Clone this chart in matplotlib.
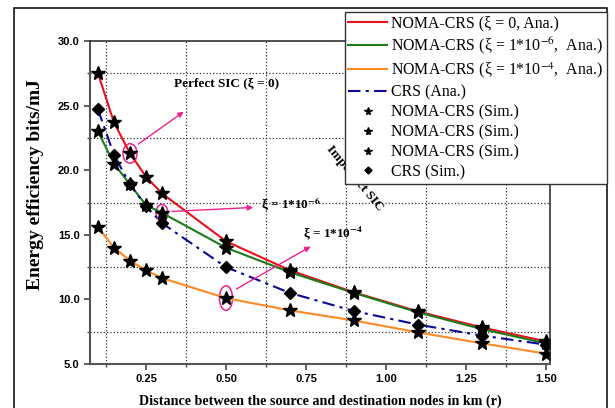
import numpy as np
import matplotlib.pyplot as plt
from matplotlib.patches import Ellipse, Rectangle
from matplotlib.ticker import MultipleLocator, FormatStrFormatter

plt.rcParams['font.family'] = ['Liberation Serif', 'DejaVu Serif']
plt.rcParams['mathtext.fontset'] = 'stix'

# distance r (km)
r = [0.1, 0.15, 0.2, 0.25, 0.3, 0.5, 0.7, 0.9, 1.1, 1.3, 1.5]

# energy efficiency (bits/mJ)
ee_xi0 = [27.5, 23.7, 21.3, 19.5, 18.2, 14.5, 12.25, 10.55, 9.07, 7.83, 6.75]
ee_xi6 = [23.0, 20.5, 18.9, 17.3, 16.7, 14.0, 12.1, 10.5, 9.0, 7.7, 6.6]
ee_xi4 = [15.6, 14.0, 13.0, 12.25, 11.65, 10.1, 9.15, 8.37, 7.45, 6.6, 5.8]
ee_crs = [24.7, 21.2, 18.9, 17.2, 15.9, 12.5, 10.5, 9.1, 8.05, 7.2, 6.5]

fig = plt.figure(figsize=(6.15, 4.08), dpi=100)
ax = fig.add_axes([0.1463, 0.1078, 0.748, 0.7917])

# outer frame
fig.patches.append(Rectangle((0.0228, -0.1), 0.9642, 1.0804, transform=fig.transFigure,
                             fill=False, lw=1.1, ec='black', zorder=0))

l1, = ax.plot(r, ee_xi0, color='#e8101a', lw=1.5, label='NOMA-CRS (ξ = 0, Ana.)')
l2, = ax.plot(r, ee_xi6, color='#1c7a1c', lw=1.5, label='NOMA-CRS (ξ = 1*10$^{-6}$,  Ana.)')
l3, = ax.plot(r, ee_xi4, color='#ff8a24', lw=1.5, label='NOMA-CRS (ξ = 1*10$^{-4}$,  Ana.)')
l4, = ax.plot(r, ee_crs, color='#0a0a96', lw=1.5, ls=(0, (6, 2.5, 1.5, 2.5)), label='CRS (Ana.)')

m1, = ax.plot(r, ee_xi0, ls='none', marker='*', ms=10.5, color='black', label='NOMA-CRS (Sim.)')
m2, = ax.plot(r, ee_xi6, ls='none', marker='*', ms=10.5, color='black', label='NOMA-CRS (Sim.)')
m3, = ax.plot(r, ee_xi4, ls='none', marker='*', ms=10.5, color='black', label='NOMA-CRS (Sim.)')
m4, = ax.plot(r, ee_crs, ls='none', marker='D', ms=6.5, color='black', label='CRS (Sim.)')

ax.set_xlim(0.075, 1.5125)
ax.set_ylim(5, 30)
ax.xaxis.set_major_locator(MultipleLocator(0.25))
ax.xaxis.set_minor_locator(MultipleLocator(0.125))
ax.yaxis.set_major_locator(MultipleLocator(5))
ax.yaxis.set_minor_locator(MultipleLocator(2.5))
ax.xaxis.set_major_formatter(FormatStrFormatter('%.2f'))
ax.yaxis.set_major_formatter(FormatStrFormatter('%.1f'))
ax.grid(True, which='minor', ls=':', lw=0.9, color='#333333')
ax.tick_params(which='major', direction='out', length=4, width=1.2, color='#444444')
ax.tick_params(which='minor', direction='out', length=2.5, width=1, color='#444444')
ax.tick_params(top=False, right=False)
for lab in ax.get_xticklabels() + ax.get_yticklabels():
    lab.set_fontfamily('Liberation Sans')
    lab.set_fontweight('bold')
    lab.set_fontsize(8)
for s in ['left', 'bottom']:
    ax.spines[s].set_linewidth(1.5)
    ax.spines[s].set_color('#555555')
for s in ['top', 'right']:
    ax.spines[s].set_linewidth(1.1)
    ax.spines[s].set_color('#222222')

ax.set_ylabel('Energy efficiency bits/mJ', fontsize=14, fontweight='bold')
ax.yaxis.set_label_coords(-0.1, 0.557)
ax.set_xlabel('Distance between the source and destination nodes in km (r)',
              fontsize=10.2, fontweight='bold', labelpad=7)

# annotations
pink = '#f0208c'
ax.add_patch(Ellipse((r[2], ee_xi0[2]), 0.044, 1.5, fill=False, ec=pink, lw=1.1))
ax.add_patch(Ellipse((r[4], ee_xi6[4]), 0.037, 1.3, fill=False, ec=pink, lw=1.1))
ax.add_patch(Ellipse((r[5], ee_xi4[5]), 0.041, 1.9, fill=False, ec=pink, lw=1.1))

arrow = dict(arrowstyle='-|>', color=pink, lw=1.0, mutation_scale=8)
ax.annotate('', xy=(0.375, 24.65), xytext=(0.219, 21.9), arrowprops=arrow)
ax.annotate('', xy=(0.594, 17.13), xytext=(0.322, 16.8), arrowprops=arrow)
ax.annotate('', xy=(0.772, 14.2), xytext=(0.525, 10.7), arrowprops=arrow)

ax.text(0.503, 26.74, 'Perfect SIC (ξ = 0)', fontsize=9.5, fontweight='bold',
        ha='center', va='center')
ax.text(0.609, 17.29, 'ξ = 1*10$^{\\mathbf{-6}}$', fontsize=9.5, fontweight='bold',
        ha='left', va='center')
ax.text(0.74, 15.12, 'ξ = 1*10$^{\\mathbf{-4}}$', fontsize=9.5, fontweight='bold',
        ha='left', va='center')
ax.text(0.903, 19.38, 'Imperfect SIC', fontsize=9.5, fontweight='bold', rotation=-50,
        ha='center', va='center')

leg = fig.legend(handles=[l1, l2, l3, l4, m1, m2, m3, m4], loc='upper right',
                 bbox_to_anchor=(0.987, 0.971), fontsize=11.4, frameon=True,
                 fancybox=False, edgecolor='#333333', framealpha=1,
                 handlelength=2.45, handletextpad=0.25, labelspacing=0.25,
                 borderpad=0.25, borderaxespad=0, markerscale=0.55)
leg.get_frame().set_linewidth(1.0)
leg.set_zorder(10)

plt.savefig('out.png', dpi=100)
